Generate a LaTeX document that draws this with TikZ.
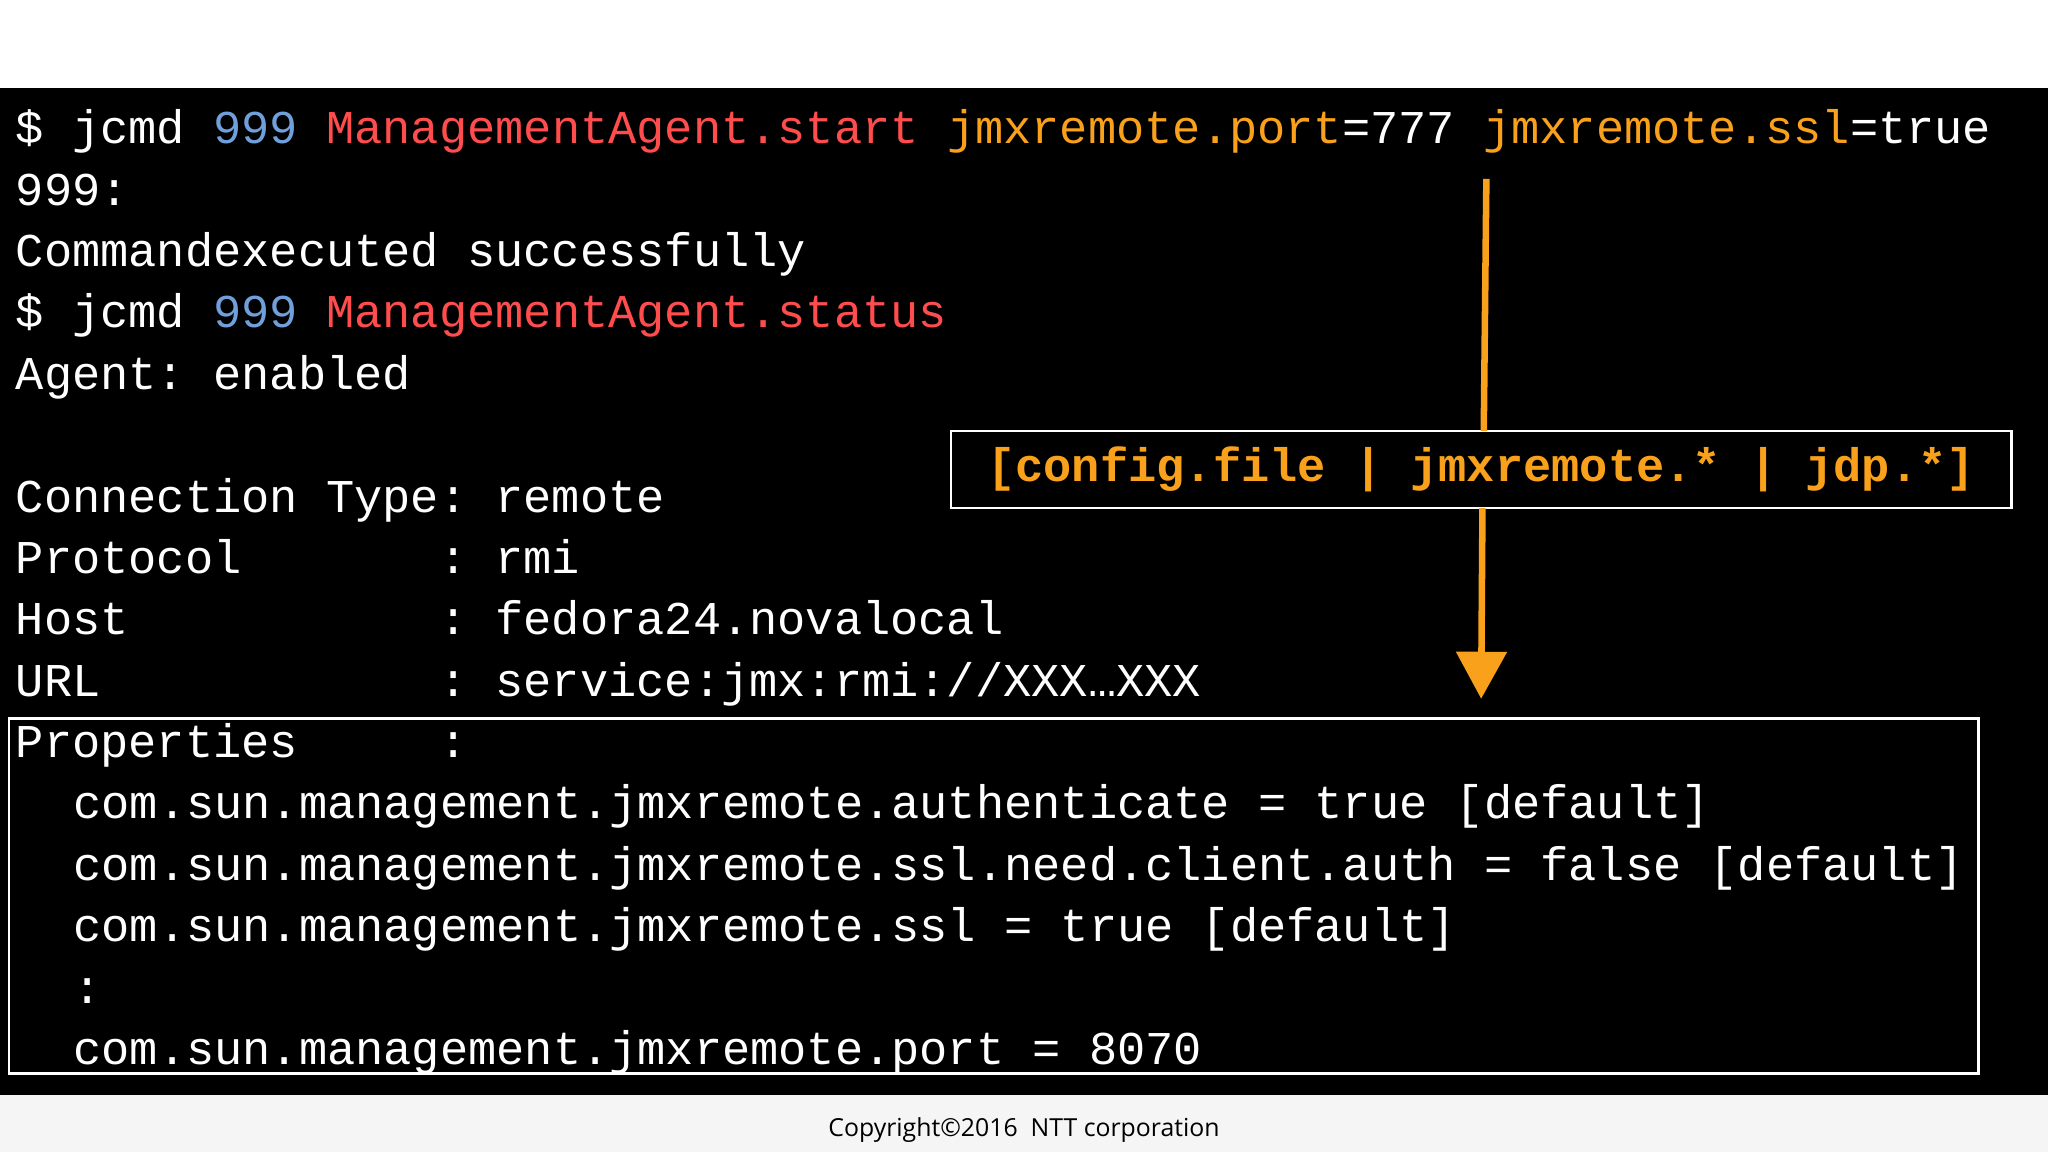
\documentclass[tikz,border=0pt]{standalone}
\usepackage{fontspec}
\setmonofont{Liberation Mono}
\setsansfont{Open Sans}
\usetikzlibrary{arrows.meta}
\definecolor{cblue}{HTML}{6FA0DC}
\definecolor{cred}{HTML}{FF4D4D}
\definecolor{corange}{HTML}{F9A11B}
\tikzset{
  tl/.style={anchor=base west,inner sep=0pt,text=white,font=\fontsize{36}{36}\selectfont\ttfamily},
  box/.style={draw=white,line width=2pt}
}
\begin{document}
\begin{tikzpicture}[x=1pt,y=-1pt]
\fill[white] (0,0) rectangle (1568,882);
\fill[black] (0,67) rectangle (1568,838);
\fill[black!4] (0,838) rectangle (1568,882);
\node[anchor=center,font=\fontsize{19}{19}\selectfont\sffamily] (copy) at (784,865) {Copyright\textcopyright2016\ \ NTT corporation};
\node[tl] (l1) at (12,110) {\$ jcmd \textcolor{cblue}{999} \textcolor{cred}{ManagementAgent.start} \textcolor{corange}{jmxremote.port}=777 \textcolor{corange}{jmxremote.ssl}=true};
\node[tl] (l2) at (12,157) {999:};
\node[tl] (l3) at (12,204) {Commandexecuted successfully};
\node[tl] (l4) at (12,251) {\$ jcmd \textcolor{cblue}{999} \textcolor{cred}{ManagementAgent.status}};
\node[tl] (l5) at (12,298) {Agent: enabled};
\node[tl] (l6) at (12,392) {Connection Type: remote};
\node[tl] (l7) at (12,439) {Protocol};
\node[tl] (l7b) at (336,439) {: rmi};
\node[tl] (l8) at (12,486) {Host};
\node[tl] (l8b) at (336,486) {: fedora24.novalocal};
\node[tl] (l9) at (12,533) {URL};
\node[tl] (l9b) at (336,533) {: service:jmx:rmi://XXX\ldots XXX};
\node[tl] (l10) at (12,580) {Properties};
\node[tl] (l10b) at (336,580) {:};
\node[tl] (l11) at (56,627) {com.sun.management.jmxremote.authenticate = true [default]};
\node[tl] (l12) at (56,674) {com.sun.management.jmxremote.ssl.need.client.auth = false [default]};
\node[tl] (l13) at (56,721) {com.sun.management.jmxremote.ssl = true [default]};
\node[tl] (l14) at (56,768) {:};
\node[tl] (l15) at (56,815) {com.sun.management.jmxremote.port = 8070};
\draw[box] (7,550) rectangle (1515,822);
\node[box,minimum width=812pt,minimum height=59pt,inner sep=0pt,text=corange,font=\fontsize{36}{36}\selectfont\ttfamily\bfseries] (cfg) at (1134,359.5) {[config.file | jmxremote.* | jdp.*]};
\coordinate (top) at (1138,137);
\coordinate (bot) at (1134,535);
\draw[corange,line width=5pt] (top) -- (1136,330);
\draw[corange,line width=5pt,-{Triangle[length=36pt,width=38pt]}] (1135,389) -- (bot);
\end{tikzpicture}
\end{document}
